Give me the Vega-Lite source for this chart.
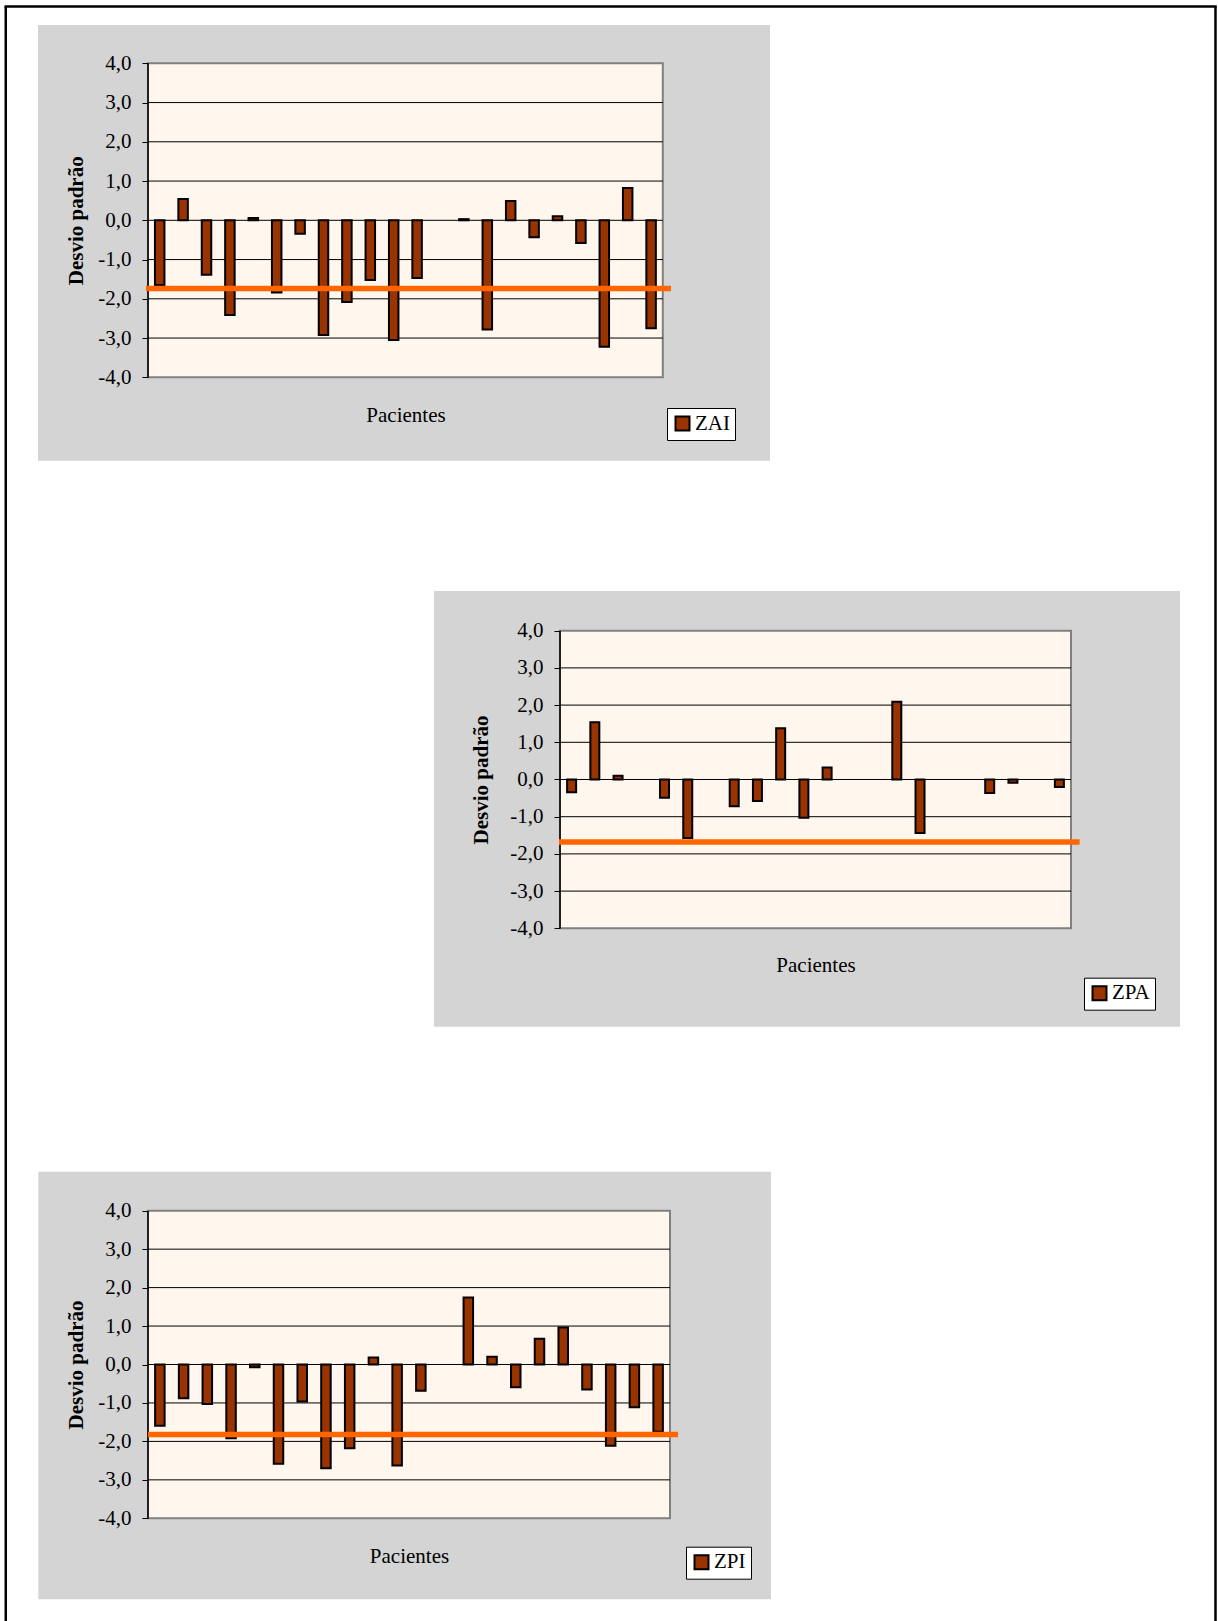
{
  "$schema": "https://vega.github.io/schema/vega-lite/v6.json",
  "padding": 0,
  "background": "white",
  "spacing": 0,
  "bounds": "flush",
  "datasets": {
    "zai": [
      {"serie": "ZAI", "paciente": 1, "valor": -1.65},
      {"serie": "ZAI", "paciente": 2, "valor": 0.54},
      {"serie": "ZAI", "paciente": 3, "valor": -1.39},
      {"serie": "ZAI", "paciente": 4, "valor": -2.41},
      {"serie": "ZAI", "paciente": 5, "valor": 0.06},
      {"serie": "ZAI", "paciente": 6, "valor": -1.84},
      {"serie": "ZAI", "paciente": 7, "valor": -0.34},
      {"serie": "ZAI", "paciente": 8, "valor": -2.92},
      {"serie": "ZAI", "paciente": 9, "valor": -2.08},
      {"serie": "ZAI", "paciente": 10, "valor": -1.52},
      {"serie": "ZAI", "paciente": 11, "valor": -3.05},
      {"serie": "ZAI", "paciente": 12, "valor": -1.47},
      {"serie": "ZAI", "paciente": 14, "valor": 0.03},
      {"serie": "ZAI", "paciente": 15, "valor": -2.78},
      {"serie": "ZAI", "paciente": 16, "valor": 0.49},
      {"serie": "ZAI", "paciente": 17, "valor": -0.43},
      {"serie": "ZAI", "paciente": 18, "valor": 0.1},
      {"serie": "ZAI", "paciente": 19, "valor": -0.58},
      {"serie": "ZAI", "paciente": 20, "valor": -3.22},
      {"serie": "ZAI", "paciente": 21, "valor": 0.82},
      {"serie": "ZAI", "paciente": 22, "valor": -2.75}
    ],
    "zpa": [
      {"serie": "ZPA", "paciente": 1, "valor": -0.34},
      {"serie": "ZPA", "paciente": 2, "valor": 1.54},
      {"serie": "ZPA", "paciente": 3, "valor": 0.1},
      {"serie": "ZPA", "paciente": 5, "valor": -0.49},
      {"serie": "ZPA", "paciente": 6, "valor": -1.57},
      {"serie": "ZPA", "paciente": 8, "valor": -0.72},
      {"serie": "ZPA", "paciente": 9, "valor": -0.58},
      {"serie": "ZPA", "paciente": 10, "valor": 1.38},
      {"serie": "ZPA", "paciente": 11, "valor": -1.03},
      {"serie": "ZPA", "paciente": 12, "valor": 0.32},
      {"serie": "ZPA", "paciente": 15, "valor": 2.09},
      {"serie": "ZPA", "paciente": 16, "valor": -1.44},
      {"serie": "ZPA", "paciente": 19, "valor": -0.36},
      {"serie": "ZPA", "paciente": 20, "valor": -0.09},
      {"serie": "ZPA", "paciente": 22, "valor": -0.2}
    ],
    "zpi": [
      {"serie": "ZPI", "paciente": 1, "valor": -1.59},
      {"serie": "ZPI", "paciente": 2, "valor": -0.88},
      {"serie": "ZPI", "paciente": 3, "valor": -1.03},
      {"serie": "ZPI", "paciente": 4, "valor": -1.92},
      {"serie": "ZPI", "paciente": 5, "valor": -0.07},
      {"serie": "ZPI", "paciente": 6, "valor": -2.58},
      {"serie": "ZPI", "paciente": 7, "valor": -0.96},
      {"serie": "ZPI", "paciente": 8, "valor": -2.7},
      {"serie": "ZPI", "paciente": 9, "valor": -2.18},
      {"serie": "ZPI", "paciente": 10, "valor": 0.18},
      {"serie": "ZPI", "paciente": 11, "valor": -2.63},
      {"serie": "ZPI", "paciente": 12, "valor": -0.68},
      {"serie": "ZPI", "paciente": 14, "valor": 1.74},
      {"serie": "ZPI", "paciente": 15, "valor": 0.2},
      {"serie": "ZPI", "paciente": 16, "valor": -0.59},
      {"serie": "ZPI", "paciente": 17, "valor": 0.67},
      {"serie": "ZPI", "paciente": 18, "valor": 0.96},
      {"serie": "ZPI", "paciente": 19, "valor": -0.65},
      {"serie": "ZPI", "paciente": 20, "valor": -2.11},
      {"serie": "ZPI", "paciente": 21, "valor": -1.11},
      {"serie": "ZPI", "paciente": 22, "valor": -1.75}
    ],
    "grade": [
      {"nivel": -3}, {"nivel": -2}, {"nivel": -1}, {"nivel": 0},
      {"nivel": 1}, {"nivel": 2}, {"nivel": 3}
    ]
  },
  "vconcat": [
    {
      "width": 1218,
      "height": 520,
      "view": {"fill": "#D4D4D4", "stroke": null},
      "layer": [
        {
          "data": {"values": [{}]},
          "mark": {"type": "rect", "fill": "white"},
          "encoding": {
            "x": {"datum": -5.8248}, "x2": {"datum": -4.201},
            "y": {"datum": 5.6127}, "y2": {"datum": -7.6357}
          }
        },
        {
          "data": {"values": [{}]},
          "mark": {"type": "rect", "fill": "white"},
          "encoding": {
            "x": {"datum": 27.081}, "x2": {"datum": 46.2265},
            "y": {"datum": 5.6127}, "y2": {"datum": -7.6357}
          }
        },
        {
          "data": {"values": [{}]},
          "mark": {"type": "rect", "fill": "white"},
          "encoding": {
            "x": {"datum": -5.8248}, "x2": {"datum": 46.2265},
            "y": {"datum": 5.6127}, "y2": {"datum": 4.976}
          }
        },
        {
          "data": {"values": [{}]},
          "mark": {"type": "rect", "fill": "white"},
          "encoding": {
            "x": {"datum": -5.8248}, "x2": {"datum": 46.2265},
            "y": {"datum": -6.125}, "y2": {"datum": -7.6357}
          }
        },
        {
          "data": {"values": [{}]},
          "mark": {"type": "rect", "fill": "#FFF7EE", "stroke": "#808080", "strokeWidth": 2},
          "encoding": {
            "x": {"datum": 0.5}, "x2": {"datum": 22.5},
            "y": {"datum": -4}, "y2": {"datum": 4}
          }
        },
        {
          "data": {"name": "grade"},
          "mark": {"type": "rule", "color": "black", "strokeWidth": 1},
          "encoding": {
            "y": {"field": "nivel", "type": "quantitative"},
            "x": {"datum": 0.5}, "x2": {"datum": 22.5}
          }
        },
        {
          "data": {"name": "zai"},
          "mark": {"type": "bar", "size": 9.5, "stroke": "black", "strokeWidth": 2},
          "encoding": {
            "x": {
              "field": "paciente", "type": "quantitative",
              "scale": {"domain": [-5.8248, 46.2265], "nice": false, "zero": false, "padding": 0},
              "axis": {
                "orient": "bottom",
                "title": "Pacientes", "labels": false, "ticks": false, "domain": false, "grid": false,
                "titleX": 405.5, "titleY": -98.5, "titleAlign": "center", "titleBaseline": "alphabetic",
                "titleFont": "Liberation Serif", "titleFontSize": 21, "titleFontWeight": "normal",
                "titleColor": "black", "zindex": 1
              }
            },
            "y": {
              "field": "valor", "type": "quantitative",
              "scale": {"domain": [-7.6357, 5.6127], "nice": false, "zero": false, "padding": 0},
              "axis": {
                "orient": "left",
                "values": [-4, -3, -2, -1, 0, 1, 2, 3, 4], "offset": -148,
                "domain": false, "grid": false,
                "tickSize": 6, "tickColor": "black", "tickWidth": 1,
                "labelExpr": "(datum.value < 0 ? '-' : '') + replace(format(abs(datum.value), '.1f'), '.', ',')",
                "labelFont": "Liberation Serif", "labelFontSize": 21, "labelColor": "black", "labelPadding": 11,
                "title": "Desvio padrão", "titleFont": "Liberation Serif", "titleFontSize": 21,
                "titleFontWeight": "bold", "titleColor": "black", "titleAngle": 270,
                "titleX": -66, "titleY": 220.3, "titleAlign": "center", "titleBaseline": "alphabetic",
                "zindex": 1
              }
            },
            "y2": {"datum": 0},
            "color": {
              "field": "serie", "type": "nominal",
              "scale": {"range": ["#993300"]},
              "legend": {
                "orient": "none", "legendX": 667, "legendY": 408, "title": null,
                "fillColor": "white", "strokeColor": "black", "padding": 5,
                "symbolType": "square", "symbolSize": 196, "symbolStrokeColor": "black", "symbolStrokeWidth": 2,
                "symbolOpacity": 1,
                "labelFont": "Liberation Serif", "labelFontSize": 21, "labelColor": "black", "labelOffset": 2
              }
            }
          }
        },
        {
          "data": {"values": [{}]},
          "mark": {"type": "rule", "color": "black", "strokeWidth": 1.5},
          "encoding": {"x": {"datum": 0.5}, "y": {"datum": -4}, "y2": {"datum": 4}}
        },
        {
          "data": {"values": [{}]},
          "mark": {"type": "rule", "color": "#FF6600", "strokeWidth": 5.5},
          "encoding": {"y": {"datum": -1.74}, "x": {"datum": 0.4145}, "x2": {"datum": 22.85}}
        },
        {
          "data": {"values": [{}]},
          "mark": {"type": "rule", "color": "black", "strokeWidth": 2.5},
          "encoding": {"x": {"datum": -5.579}, "y": {"datum": 5.447}, "y2": {"datum": -7.6357}}
        },
        {
          "data": {"values": [{}]},
          "mark": {"type": "rule", "color": "black", "strokeWidth": 2.5},
          "encoding": {"x": {"datum": 46.119}, "y": {"datum": 5.447}, "y2": {"datum": -7.6357}}
        },
        {
          "data": {"values": [{}]},
          "mark": {"type": "rule", "color": "black", "strokeWidth": 2.5},
          "encoding": {"y": {"datum": 5.447}, "x": {"datum": -5.63}, "x2": {"datum": 46.17}}
        }
      ]
    },
    {
      "width": 1218,
      "height": 580,
      "view": {"fill": "#D4D4D4", "stroke": null},
      "layer": [
        {
          "data": {"values": [{}]},
          "mark": {"type": "rect", "fill": "white"},
          "encoding": {
            "x": {"datum": -23.6099}, "x2": {"datum": -4.925},
            "y": {"datum": 6.9758}, "y2": {"datum": -8.6156}
          }
        },
        {
          "data": {"values": [{}]},
          "mark": {"type": "rect", "fill": "white"},
          "encoding": {
            "x": {"datum": 27.193}, "x2": {"datum": 28.829},
            "y": {"datum": 6.9758}, "y2": {"datum": -8.6156}
          }
        },
        {
          "data": {"values": [{}]},
          "mark": {"type": "rect", "fill": "white"},
          "encoding": {
            "x": {"datum": -23.6099}, "x2": {"datum": 28.829},
            "y": {"datum": 6.9758}, "y2": {"datum": 5.067}
          }
        },
        {
          "data": {"values": [{}]},
          "mark": {"type": "rect", "fill": "white"},
          "encoding": {
            "x": {"datum": -23.6099}, "x2": {"datum": 28.829},
            "y": {"datum": -6.645}, "y2": {"datum": -8.6156}
          }
        },
        {
          "data": {"values": [{}]},
          "mark": {"type": "rect", "fill": "#FFF7EE", "stroke": "#808080", "strokeWidth": 2},
          "encoding": {
            "x": {"datum": 0.5}, "x2": {"datum": 22.5},
            "y": {"datum": -4}, "y2": {"datum": 4}
          }
        },
        {
          "data": {"name": "grade"},
          "mark": {"type": "rule", "color": "black", "strokeWidth": 1},
          "encoding": {
            "y": {"field": "nivel", "type": "quantitative"},
            "x": {"datum": 0.5}, "x2": {"datum": 22.5}
          }
        },
        {
          "data": {"name": "zpa"},
          "mark": {"type": "bar", "size": 9, "stroke": "black", "strokeWidth": 2},
          "encoding": {
            "x": {
              "field": "paciente", "type": "quantitative",
              "scale": {"domain": [-23.6099, 28.829], "nice": false, "zero": false, "padding": 0},
              "axis": {
                "orient": "bottom",
                "title": "Pacientes", "labels": false, "ticks": false, "domain": false, "grid": false,
                "titleX": 815.5, "titleY": -128.5, "titleAlign": "center", "titleBaseline": "alphabetic",
                "titleFont": "Liberation Serif", "titleFontSize": 21, "titleFontWeight": "normal",
                "titleColor": "black", "zindex": 1
              }
            },
            "y": {
              "field": "valor", "type": "quantitative",
              "scale": {"domain": [-8.6156, 6.9758], "nice": false, "zero": false, "padding": 0},
              "axis": {
                "orient": "left",
                "values": [-4, -3, -2, -1, 0, 1, 2, 3, 4], "offset": -560,
                "domain": false, "grid": false,
                "tickSize": 6, "tickColor": "black", "tickWidth": 1,
                "labelExpr": "(datum.value < 0 ? '-' : '') + replace(format(abs(datum.value), '.1f'), '.', ',')",
                "labelFont": "Liberation Serif", "labelFontSize": 21, "labelColor": "black", "labelPadding": 11,
                "title": "Desvio padrão", "titleFont": "Liberation Serif", "titleFontSize": 21,
                "titleFontWeight": "bold", "titleColor": "black", "titleAngle": 270,
                "titleX": -72.5, "titleY": 259.5, "titleAlign": "center", "titleBaseline": "alphabetic",
                "zindex": 1
              }
            },
            "y2": {"datum": 0},
            "color": {
              "field": "serie", "type": "nominal",
              "scale": {"range": ["#993300"]},
              "legend": {
                "orient": "none", "legendX": 1084, "legendY": 457.7, "title": null,
                "fillColor": "white", "strokeColor": "black", "padding": 5,
                "symbolType": "square", "symbolSize": 196, "symbolStrokeColor": "black", "symbolStrokeWidth": 2,
                "symbolOpacity": 1,
                "labelFont": "Liberation Serif", "labelFontSize": 21, "labelColor": "black", "labelOffset": 2
              }
            }
          }
        },
        {
          "data": {"values": [{}]},
          "mark": {"type": "rule", "color": "black", "strokeWidth": 1.5},
          "encoding": {"x": {"datum": 0.5}, "y": {"datum": -4}, "y2": {"datum": 4}}
        },
        {
          "data": {"values": [{}]},
          "mark": {"type": "rule", "color": "#FF6600", "strokeWidth": 5.5},
          "encoding": {"y": {"datum": -1.68}, "x": {"datum": 0.457}, "x2": {"datum": 22.871}}
        },
        {
          "data": {"values": [{}]},
          "mark": {"type": "rule", "color": "black", "strokeWidth": 2.5},
          "encoding": {"x": {"datum": -23.362}}
        },
        {
          "data": {"values": [{}]},
          "mark": {"type": "rule", "color": "black", "strokeWidth": 2.5},
          "encoding": {"x": {"datum": 28.7215}}
        }
      ]
    },
    {
      "width": 1218,
      "height": 521,
      "view": {"fill": "#D4D4D4", "stroke": null},
      "layer": [
        {
          "data": {"values": [{}]},
          "mark": {"type": "rect", "fill": "white"},
          "encoding": {
            "x": {"datum": -5.7376}, "x2": {"datum": -4.123},
            "y": {"datum": 6.8791}, "y2": {"datum": -6.671}
          }
        },
        {
          "data": {"values": [{}]},
          "mark": {"type": "rect", "fill": "white"},
          "encoding": {
            "x": {"datum": 26.757}, "x2": {"datum": 45.5963},
            "y": {"datum": 6.8791}, "y2": {"datum": -6.671}
          }
        },
        {
          "data": {"values": [{}]},
          "mark": {"type": "rect", "fill": "white"},
          "encoding": {
            "x": {"datum": -5.7376}, "x2": {"datum": 45.5963},
            "y": {"datum": 6.8791}, "y2": {"datum": 5.014}
          }
        },
        {
          "data": {"values": [{}]},
          "mark": {"type": "rect", "fill": "white"},
          "encoding": {
            "x": {"datum": -5.7376}, "x2": {"datum": 45.5963},
            "y": {"datum": -6.107}, "y2": {"datum": -6.671}
          }
        },
        {
          "data": {"values": [{}]},
          "mark": {"type": "rect", "fill": "#FFF7EE", "stroke": "#808080", "strokeWidth": 2},
          "encoding": {
            "x": {"datum": 0.5}, "x2": {"datum": 22.5},
            "y": {"datum": -4}, "y2": {"datum": 4}
          }
        },
        {
          "data": {"name": "grade"},
          "mark": {"type": "rule", "color": "black", "strokeWidth": 1},
          "encoding": {
            "y": {"field": "nivel", "type": "quantitative"},
            "x": {"datum": 0.5}, "x2": {"datum": 22.5}
          }
        },
        {
          "data": {"name": "zpi"},
          "mark": {"type": "bar", "size": 9.5, "stroke": "black", "strokeWidth": 2},
          "encoding": {
            "x": {
              "field": "paciente", "type": "quantitative",
              "scale": {"domain": [-5.7376, 45.5963], "nice": false, "zero": false, "padding": 0},
              "axis": {
                "orient": "bottom",
                "title": "Pacientes", "labels": false, "ticks": false, "domain": false, "grid": false,
                "titleX": 409, "titleY": -59, "titleAlign": "center", "titleBaseline": "alphabetic",
                "titleFont": "Liberation Serif", "titleFontSize": 21, "titleFontWeight": "normal",
                "titleColor": "black", "zindex": 1
              }
            },
            "y": {
              "field": "valor", "type": "quantitative",
              "scale": {"domain": [-6.671, 6.8791], "nice": false, "zero": false, "padding": 0},
              "axis": {
                "orient": "left",
                "values": [-4, -3, -2, -1, 0, 1, 2, 3, 4], "offset": -148,
                "domain": false, "grid": false,
                "tickSize": 6, "tickColor": "black", "tickWidth": 1,
                "labelExpr": "(datum.value < 0 ? '-' : '') + replace(format(abs(datum.value), '.1f'), '.', ',')",
                "labelFont": "Liberation Serif", "labelFontSize": 21, "labelColor": "black", "labelPadding": 11,
                "title": "Desvio padrão", "titleFont": "Liberation Serif", "titleFontSize": 21,
                "titleFontWeight": "bold", "titleColor": "black", "titleAngle": 270,
                "titleX": -66, "titleY": 264.5, "titleAlign": "center", "titleBaseline": "alphabetic",
                "zindex": 1
              }
            },
            "y2": {"datum": 0},
            "color": {
              "field": "serie", "type": "nominal",
              "scale": {"range": ["#993300"]},
              "legend": {
                "orient": "none", "legendX": 686, "legendY": 446.7, "title": null,
                "fillColor": "white", "strokeColor": "black", "padding": 5,
                "symbolType": "square", "symbolSize": 196, "symbolStrokeColor": "black", "symbolStrokeWidth": 2,
                "symbolOpacity": 1,
                "labelFont": "Liberation Serif", "labelFontSize": 21, "labelColor": "black", "labelOffset": 2
              }
            }
          }
        },
        {
          "data": {"values": [{}]},
          "mark": {"type": "rule", "color": "black", "strokeWidth": 1.5},
          "encoding": {"x": {"datum": 0.5}, "y": {"datum": -4}, "y2": {"datum": 4}}
        },
        {
          "data": {"values": [{}]},
          "mark": {"type": "rule", "color": "#FF6600", "strokeWidth": 5.5},
          "encoding": {"y": {"datum": -1.82}, "x": {"datum": 0.5}, "x2": {"datum": 22.837}}
        },
        {
          "data": {"values": [{}]},
          "mark": {"type": "rule", "color": "black", "strokeWidth": 2.5},
          "encoding": {"x": {"datum": -5.495}}
        },
        {
          "data": {"values": [{}]},
          "mark": {"type": "rule", "color": "black", "strokeWidth": 2.5},
          "encoding": {"x": {"datum": 45.4905}}
        }
      ]
    }
  ],
  "resolve": {
    "scale": {"x": "independent", "y": "independent", "color": "independent"},
    "axis": {"x": "independent", "y": "independent"},
    "legend": {"color": "independent"}
  },
  "config": {
    "view": {"stroke": null},
    "font": "Liberation Serif"
  }
}
